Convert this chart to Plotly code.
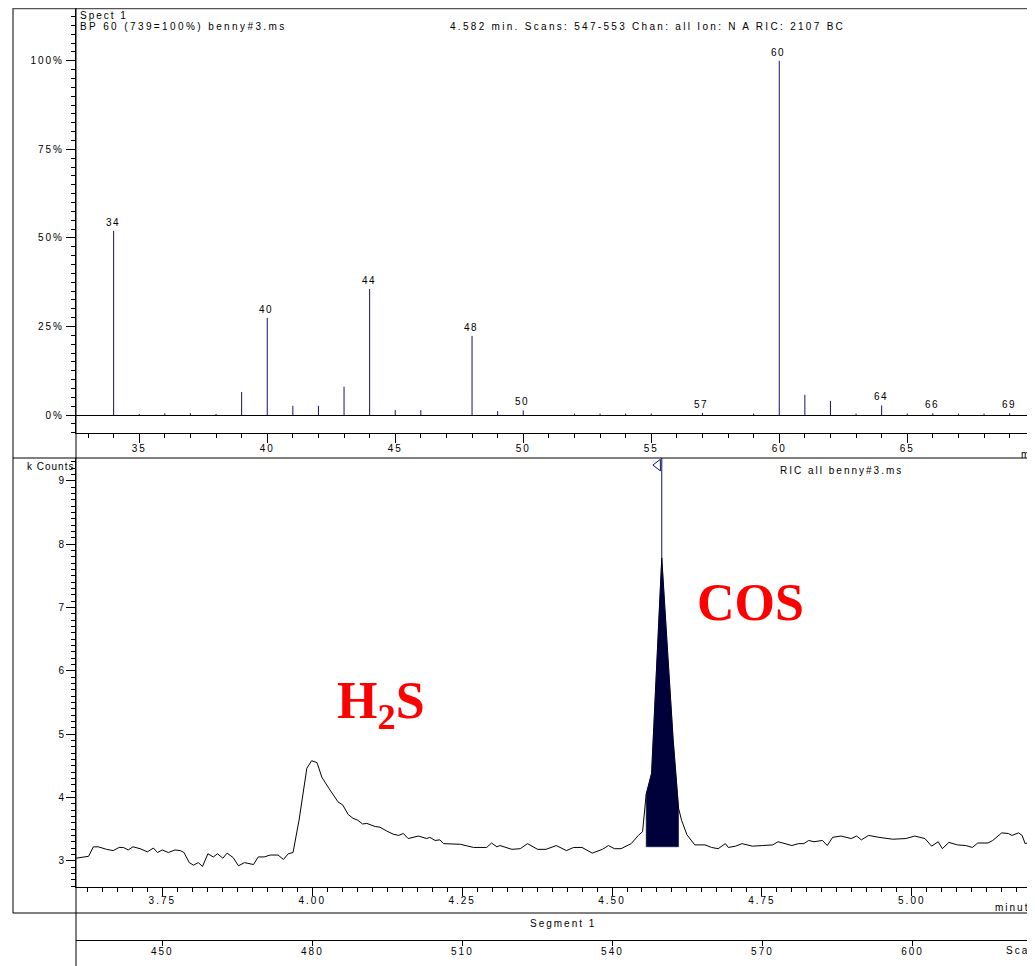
import plotly.graph_objects as go

# ---------------- data ----------------
# mass spectrum (relative abundance, %)
mz = [34, 35, 36, 37, 38, 39, 40, 41, 42, 43, 44, 45, 46, 48, 49, 50, 52, 53, 54, 55,
      57, 59, 60, 61, 62, 63, 64, 65, 66, 67, 68, 69]
rel_abund = [52.0, 0.3, 0.5, 0.5, 0.3, 6.5, 27.4, 2.6, 2.6, 8.0, 35.6, 1.4, 1.4, 22.3, 1.1, 1.3,
             0.4, 0.4, 0.4, 0.4, 0.6, 0.4, 100.0, 5.7, 4.0, 0.4, 2.7, 0.4, 0.5, 0.4, 0.4, 0.5]
labeled_mz = [34, 40, 44, 48, 50, 57, 60, 64, 66, 69]

# reconstructed ion chromatogram (minutes, kCounts)
ric_time = [3.606, 3.627, 3.635, 3.643, 3.657, 3.668, 3.678, 3.685, 3.693, 3.701, 3.713, 3.725,
            3.735, 3.742, 3.750, 3.760, 3.771, 3.780, 3.786, 3.795, 3.802, 3.810, 3.817, 3.826,
            3.835, 3.842, 3.851, 3.858, 3.868, 3.877, 3.887, 3.902, 3.910, 3.920, 3.930, 3.943,
            3.952, 3.960, 3.968, 3.978, 3.991, 3.999, 4.008, 4.016, 4.028, 4.043, 4.051, 4.060,
            4.068, 4.076, 4.084, 4.091, 4.105, 4.113, 4.124, 4.135, 4.144, 4.152, 4.160, 4.177,
            4.191, 4.196, 4.205, 4.213, 4.219, 4.233, 4.247, 4.269, 4.291, 4.299, 4.308, 4.313,
            4.333, 4.347, 4.359, 4.376, 4.390, 4.407, 4.424, 4.436, 4.450, 4.467, 4.484, 4.494,
            4.504, 4.515, 4.532, 4.544, 4.551, 4.557, 4.566, 4.583, 4.592, 4.602, 4.611, 4.616,
            4.625, 4.638, 4.655, 4.666, 4.677, 4.689, 4.694, 4.706, 4.717, 4.734, 4.751, 4.768,
            4.777, 4.788, 4.800, 4.811, 4.820, 4.828, 4.837, 4.851, 4.859, 4.868, 4.882, 4.899,
            4.908, 4.916, 4.928, 4.945, 4.968, 4.990, 5.005, 5.022, 5.033, 5.044, 5.051, 5.062,
            5.076, 5.090, 5.101, 5.110, 5.127, 5.135, 5.150, 5.161, 5.167, 5.178, 5.184, 5.189,
            5.201]
ric_kcounts = [3.04, 3.07, 3.22, 3.22, 3.18, 3.16, 3.21, 3.21, 3.17, 3.22, 3.19, 3.14,
               3.20, 3.13, 3.17, 3.13, 3.17, 3.16, 3.13, 2.97, 2.93, 2.97, 2.91, 3.11,
               3.06, 3.11, 3.04, 3.12, 3.05, 2.92, 2.97, 2.94, 3.06, 3.06, 3.09, 3.09,
               3.02, 3.11, 3.13, 3.64, 4.46, 4.58, 4.55, 4.32, 4.14, 3.93, 3.88, 3.73,
               3.67, 3.64, 3.58, 3.59, 3.54, 3.53, 3.47, 3.42, 3.40, 3.43, 3.35, 3.39,
               3.35, 3.37, 3.32, 3.33, 3.27, 3.27, 3.26, 3.21, 3.21, 3.28, 3.22, 3.24,
               3.18, 3.19, 3.27, 3.18, 3.18, 3.24, 3.16, 3.21, 3.21, 3.12, 3.18, 3.24,
               3.19, 3.19, 3.27, 3.40, 3.46, 4.05, 4.38, 7.78, 6.38, 4.91, 3.83, 3.64,
               3.41, 3.25, 3.25, 3.21, 3.19, 3.27, 3.21, 3.23, 3.27, 3.23, 3.24, 3.25,
               3.30, 3.27, 3.24, 3.27, 3.27, 3.32, 3.30, 3.32, 3.24, 3.37, 3.39, 3.35,
               3.39, 3.33, 3.40, 3.37, 3.34, 3.35, 3.39, 3.35, 3.23, 3.30, 3.19, 3.29,
               3.25, 3.24, 3.21, 3.28, 3.28, 3.32, 3.44, 3.43, 3.40, 3.44, 3.40, 3.27,
               3.30]

# integrated COS peak
peak_start, peak_end, peak_base = 4.557, 4.611, 3.22
spectrum_time = 4.583

top_x_ticks = [35, 40, 45, 50, 55, 60, 65]
top_y_ticks = [0, 25, 50, 75, 100]
min_ticks = [3.75, 4.00, 4.25, 4.50, 4.75, 5.00]
kc_ticks = [3, 4, 5, 6, 7, 8, 9]
scan_ticks = [450, 480, 510, 540, 570, 600]

# ---------------- helpers ----------------
# the page body adds an 8 px margin, so the figure starts at (8, 8) in the window
OX, OY = 8, 8
W, H = 1035 - OX, 966 - OY
FONT = "Liberation Sans, Arial, sans-serif"
NAVY = "#14146a"


def px(x):
    return (x - OX) / W


def py(y):
    return (H - (y - OY)) / H


def sp(s, gap=2):
    return f'<span style="letter-spacing:{gap}px">{s}</span>'


tick_font = dict(family=FONT, size=10, color="black")

fig = go.Figure()

# spectrum sticks
sx, sy = [], []
for m, r in zip(mz, rel_abund):
    sx += [m, m, None]
    sy += [0, r, None]
fig.add_trace(go.Scatter(x=sx, y=sy, mode="lines", line=dict(color=NAVY, width=1),
                         xaxis="x", yaxis="y", hoverinfo="skip"))

# chromatogram
fig.add_trace(go.Scatter(x=ric_time, y=ric_kcounts, mode="lines",
                         line=dict(color="black", width=1), xaxis="x2", yaxis="y2"))

# filled COS peak
fx = [peak_start]
fy = [peak_base]
for t, v in zip(ric_time, ric_kcounts):
    if peak_start <= t <= peak_end:
        fx.append(t)
        fy.append(v)
fx += [peak_end, peak_start]
fy += [peak_base, peak_base]
fig.add_trace(go.Scatter(x=fx, y=fy, mode="lines", fill="toself", fillcolor="#00003a",
                         line=dict(color="#00003a", width=0.5), xaxis="x2", yaxis="y2"))

y2_range = [2.585, 9.362]
peak_top = max(ric_kcounts)
fig.add_trace(go.Scatter(x=[spectrum_time, spectrum_time], y=[peak_top, y2_range[1]],
                         mode="lines", line=dict(color=NAVY, width=1), xaxis="x2", yaxis="y2"))
fig.add_trace(go.Scatter(x=[spectrum_time - 0.0065], y=[9.25], mode="markers",
                         marker=dict(symbol="triangle-left-open", size=10,
                                     line=dict(color=NAVY, width=1), color=NAVY),
                         xaxis="x2", yaxis="y2"))
# carrier for scan axis
fig.add_trace(go.Scatter(x=[None], y=[None], xaxis="x3", yaxis="y2"))

# peak labels
anns = []
for m, r in zip(mz, rel_abund):
    if m in labeled_mz:
        anns.append(dict(x=m, y=r, xref="x", yref="y", text=sp(str(m), 1.5), showarrow=False,
                         yanchor="bottom", xanchor="center", yshift=1, xshift=-1,
                         font=dict(family=FONT, size=10, color="black")))


def txt(x, y, s, anchor="left", size=10, gap=2, vanchor="middle"):
    anns.append(dict(x=px(x), y=py(y), xref="paper", yref="paper", text=sp(s, gap),
                     showarrow=False, xanchor=anchor, yanchor=vanchor,
                     font=dict(family=FONT, size=size, color="black")))


txt(78, 15, "Spect 1")
txt(78, 27, "BP 60 (739=100%) benny#3.ms", gap=2.4)
txt(448, 27, "4.582 min. Scans: 547-553 Chan: all Ion: N A RIC: 2107 BC", gap=2.3)
txt(778, 470, "RIC all benny#3.ms")
txt(76, 467, "k Counts", anchor="right", gap=1)
txt(528, 923, "Segment 1")
txt(993, 907, "minutes")
txt(1004, 950, "Scan")
txt(1036, 446, "70", anchor="center")
txt(1019, 454, "m/z")

anns.append(dict(x=px(335), y=py(704), xref="paper", yref="paper",
                 text="<b>H<sub>2</sub>S</b>", showarrow=False, xanchor="left", yanchor="middle",
                 font=dict(family="Liberation Serif, Times New Roman, serif", size=52, color="#ff0000")))
anns.append(dict(x=px(750), y=py(603), xref="paper", yref="paper",
                 text="<b>COS</b>", showarrow=False, xanchor="center", yanchor="middle",
                 font=dict(family="Liberation Serif, Times New Roman, serif", size=52, color="#ff0000")))


# frame lines
def hline(y, x0, x1, color="black", width=1):
    return dict(type="line", xref="paper", yref="paper", x0=px(x0), x1=px(x1), y0=py(y), y1=py(y),
                line=dict(color=color, width=width))


def vline(x, y0, y1, color="black", width=1):
    return dict(type="line", xref="paper", yref="paper", x0=px(x), x1=px(x), y0=py(y0), y1=py(y1),
                line=dict(color=color, width=width))


shapes = [
    hline(8.6, 13, 1035, "#555555", 1.2),
    vline(13, 8, 913, "#555555", 1.5),
    hline(458, 13, 1035),
    hline(913, 13, 1035),
    vline(76, 8, 966),
]

common_axis = dict(showgrid=False, showline=True, linecolor="black", linewidth=1,
                   ticks="outside", tickcolor="black", tickwidth=1, tickfont=tick_font)

fig.update_layout(
    width=W, height=H,
    margin=dict(l=0, r=0, t=0, b=0),
    paper_bgcolor="white", plot_bgcolor="white",
    showlegend=False,
    xaxis=dict(domain=[px(76), 1.0], anchor="y", range=[32.53, 69.99],
               tickmode="array", tickvals=top_x_ticks, ticktext=[sp(str(v), 2) for v in top_x_ticks],
               ticklen=9, zeroline=False, ticklabelstandoff=-3,
               minor=dict(dtick=1, tick0=0, ticklen=4, ticks="outside", tickcolor="black"),
               **common_axis),
    yaxis=dict(domain=[py(433), 1.0], anchor="x", range=[-5.08, 114.9],
               tickmode="array", tickvals=top_y_ticks, ticktext=[sp(f"{v}%", 2) for v in top_y_ticks],
               ticklen=9, zeroline=True, zerolinecolor="black", zerolinewidth=1,
               minor=dict(dtick=2.5, tick0=0, ticklen=4, ticks="outside", tickcolor="black"),
               **common_axis),
    xaxis2=dict(domain=[px(76), 1.0], anchor="y2", range=[3.606, 5.2055],
                tickmode="array", tickvals=min_ticks, ticktext=[sp(f"{v:.2f}", 2) for v in min_ticks],
                ticklen=8, zeroline=False, ticklabelstandoff=-4,
                minor=dict(dtick=0.025, tick0=0, ticklen=4, ticks="outside", tickcolor="black"),
                **common_axis),
    yaxis2=dict(domain=[py(887), py(458)], anchor="x2", range=y2_range,
                tickmode="array", tickvals=kc_ticks, ticktext=[str(v) for v in kc_ticks],
                ticklen=9, zeroline=False,
                minor=dict(dtick=0.1, tick0=0, ticklen=4, ticks="outside", tickcolor="black"),
                **common_axis),
    xaxis3=dict(overlaying="x2", anchor="free", position=py(940), side="bottom",
                range=[432.74, 624.5], tickmode="array", tickvals=scan_ticks,
                ticktext=[sp(str(v), 2) for v in scan_ticks], ticklen=5, zeroline=False,
                ticklabelstandoff=-3,
                **common_axis),
    annotations=anns,
    shapes=shapes,
)

fig.write_html("out.html")
